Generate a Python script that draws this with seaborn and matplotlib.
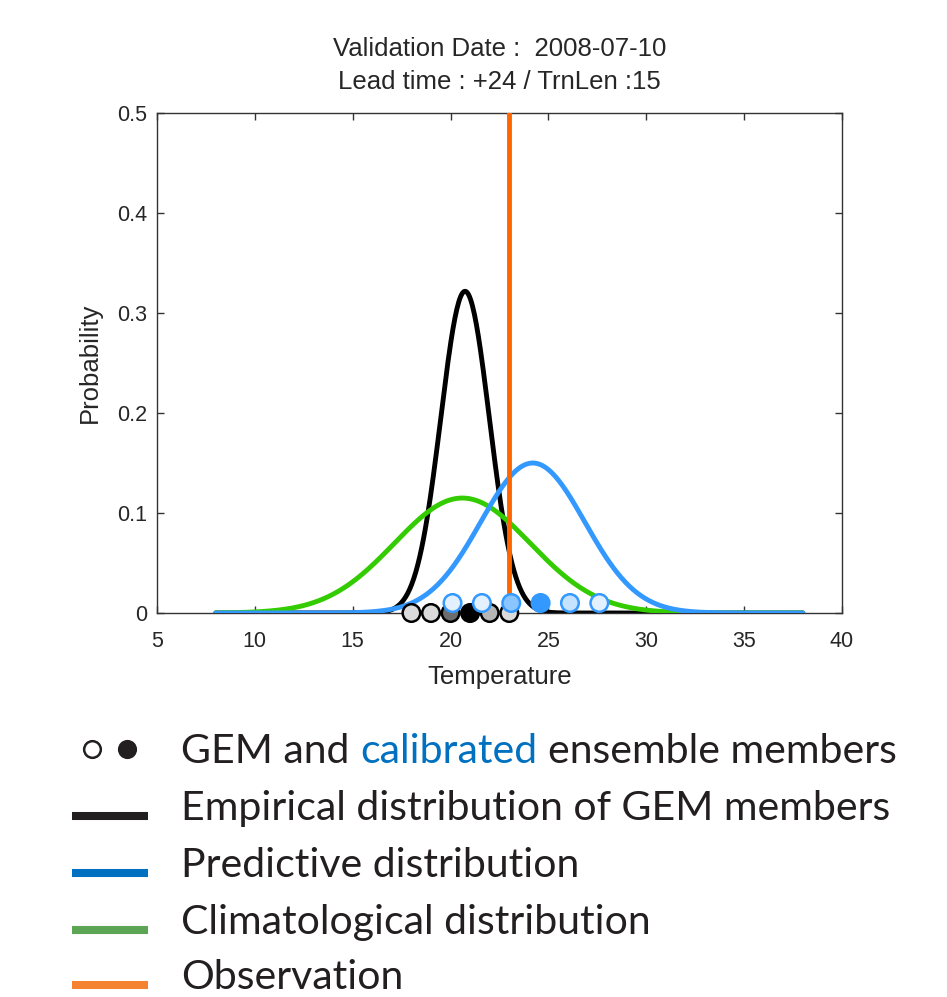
import numpy as np
import pandas as pd
import matplotlib
matplotlib.use("Agg")
import matplotlib.pyplot as plt
from matplotlib.lines import Line2D
import seaborn as sns

# Данные
title_lines = ["Validation Date :  2008-07-10", "Lead time : +24 / TrnLen :15"]
x_ticks = [5, 10, 15, 20, 25, 30, 35, 40]
y_ticks = [0, 0.1, 0.2, 0.3, 0.4, 0.5]
y_tick_labels = ["0", "0.1", "0.2", "0.3", "0.4", "0.5"]

# члены ансамбля GEM и откалиброванные члены
gem_members = [18, 19, 20, 21, 22, 23]
member_counts = [1, 1, 4, 7, 2, 1]
calibrated_members = [20.1, 21.6, 23.1, 24.6, 26.1, 27.6]

# параметры распределений (среднее, ст. откл.)
empirical_mean, empirical_sd = 20.74, 1.24
predictive_mean, predictive_sd = 24.2, 2.66
climate_mean, climate_sd = 20.6, 3.47
observation = 23.0
curve_range = [8, 38]

legend_labels = ["GEM and calibrated ensemble members",
                 "Empirical distribution of GEM members",
                 "Predictive distribution",
                 "Climatological distribution",
                 "Observation"]
legend_colors = ["#231F20", "#231F20", "#0070C0", "#5BA555", "#F58231"]

# Стиль
sns.set_style("ticks")
plt.rcParams['font.family'] = ['Liberation Sans', 'DejaVu Sans']

W, H = 947, 997
fig = plt.figure(figsize=(W / 100, H / 100), dpi=100)
ax = fig.add_axes([157 / W, 1 - 613 / H, 685 / W, 500 / H])


def fx(px):
    return px / W


def fy(py):
    return 1 - py / H


def normal_pdf(x, mu, sd):
    return np.exp(-0.5 * ((x - mu) / sd) ** 2) / (sd * np.sqrt(2 * np.pi))


grid = np.linspace(curve_range[0], curve_range[1], 600)
curves = pd.DataFrame({
    'Temperature': grid,
    'empirical': normal_pdf(grid, empirical_mean, empirical_sd),
    'climate': normal_pdf(grid, climate_mean, climate_sd),
    'predictive': normal_pdf(grid, predictive_mean, predictive_sd),
})

sns.lineplot(data=curves, x='Temperature', y='empirical', color='black', lw=3.5, ax=ax, zorder=2)
sns.lineplot(data=curves, x='Temperature', y='climate', color='#33CC00', lw=3.5, ax=ax, zorder=3)
sns.lineplot(data=curves, x='Temperature', y='predictive', color='#3399FF', lw=3.5, ax=ax, zorder=4)
ax.axvline(observation, color='#FF6600', lw=3.5, zorder=5)

# заливка маркеров по числу членов
frac = np.array(member_counts) / max(member_counts)
blue = np.array(matplotlib.colors.to_rgb('#3399FF'))
gem_faces = {m: (1 - f, 1 - f, 1 - f) for m, f in zip(gem_members, frac)}
cal_faces = {m: tuple(1 - f * (1 - blue)) for m, f in zip(calibrated_members, frac)}

members = pd.DataFrame({'gem': gem_members, 'cal': calibrated_members,
                        'y0': [0.0] * len(gem_members), 'y1': [0.01] * len(gem_members)})
sns.scatterplot(data=members, x='gem', y='y0', hue='gem', palette=gem_faces, legend=False,
                s=160, edgecolor='black', linewidth=1.8, ax=ax, zorder=6, clip_on=False)
sns.scatterplot(data=members, x='cal', y='y1', hue='cal', palette=cal_faces, legend=False,
                s=160, edgecolor='#3399FF', linewidth=1.8, ax=ax, zorder=6, clip_on=False)

ax.set_xlim(5, 40)
ax.set_ylim(0, 0.5)
ax.set_xticks(x_ticks)
ax.set_xticklabels([str(t) for t in x_ticks])
ax.set_yticks(y_ticks)
ax.set_yticklabels(y_tick_labels)
ax.tick_params(direction='in', top=True, right=True, length=5, width=1, color='#333333',
               labelsize=15.5, pad=7)
ax.tick_params(axis='x', pad=13)
for sp in ax.spines.values():
    sp.set_color('#333333')
    sp.set_linewidth(1)
ax.set_xlabel('Temperature', fontsize=18.5, labelpad=9)
ax.set_ylabel('Probability', fontsize=18.5, labelpad=11)
ax.set_title("\n".join(title_lines), fontsize=18.5, linespacing=1.5, pad=17)

# Легенда под графиком
row_text_y = [763, 820, 877, 934, 989]
leg_font = dict(fontsize=29.5, family=['Lato', 'DejaVu Sans'], va='baseline')

fig.add_artist(Line2D([fx(92)], [fy(749)], marker='o', ms=12, mfc='white', mec='#231F20',
                      mew=1.8, transform=fig.transFigure))
fig.add_artist(Line2D([fx(127)], [fy(749)], marker='o', ms=12, mfc='#231F20', mec='#231F20',
                      mew=1.8, transform=fig.transFigure))
for i in range(1, len(legend_labels)):
    fig.add_artist(Line2D([fx(72), fx(148)], [fy(row_text_y[i] - 4)] * 2, lw=5.8,
                          color=legend_colors[i], solid_capstyle='butt', transform=fig.transFigure))
    fig.text(fx(181), fy(row_text_y[i]), legend_labels[i], color='#231F20', **leg_font)

# первая строка: слово "calibrated" синим
renderer = fig.canvas.get_renderer()


def text_width(s):
    t = fig.text(0, 0, s, **leg_font)
    w = t.get_window_extent(renderer).width
    t.remove()
    return w


x0 = 181
fig.text(fx(x0), fy(row_text_y[0]), "GEM and", color='#231F20', **leg_font)
x_cal = x0 + text_width("GEM and calibrated") - text_width("calibrated")
fig.text(fx(x_cal), fy(row_text_y[0]), "calibrated", color='#0070C0', **leg_font)
x_ens = x0 + text_width("GEM and calibrated ensemble members") - text_width("ensemble members")
fig.text(fx(x_ens), fy(row_text_y[0]), "ensemble members", color='#231F20', **leg_font)

fig.savefig("out.png", dpi=100)
